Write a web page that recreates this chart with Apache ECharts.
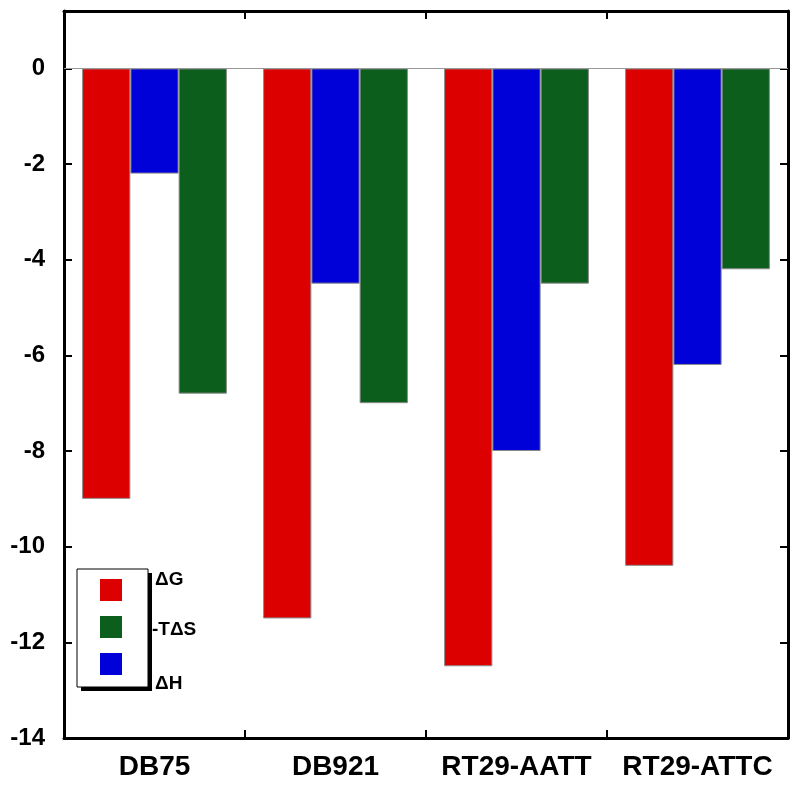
<!DOCTYPE html>
<html><head><meta charset="utf-8">
<script src="https://cdn.jsdelivr.net/npm/echarts@6/dist/echarts.min.js"></script>
<style>html,body{margin:0;padding:0;background:#fff}#c{width:800px;height:793px}</style>
</head><body><div id="c"></div>
<script>
const categories = ['DB75', 'DB921', 'RT29-AATT', 'RT29-ATTC'];
const dG = [-9.0, -11.5, -12.5, -10.4];
const dH = [-2.2, -4.5, -8.0, -6.2];
const TdS = [-6.8, -7.0, -4.5, -4.2];
const yTicks = [-14, -12, -10, -8, -6, -4, -2, 0];
const legendNames = ['\u0394G', '-T\u0394S', '\u0394H'];

const FONT = 'Liberation Sans, Arial, sans-serif';
const RED = '#dd0000', BLUE = '#0000d8', GREEN = '#0b5e1b';
const chart = echarts.init(document.getElementById('c'), null, {renderer: 'canvas'});

const barStyle = c => ({color: c, borderColor: '#8a8a8a', borderWidth: 1});
const axLine = {show: true, onZero: false, lineStyle: {color: '#000', width: 3}};
const tick = {show: true, inside: true, length: 8, lineStyle: {color: '#000', width: 2}};

chart.setOption({
  animation: false,
  backgroundColor: '#fff',
  grid: {left: 64, right: 12, top: 11, bottom: 55},
  legend: {
    z: 200, zlevel: 1, padding: 0,
    orient: 'vertical', left: 100, top: 579,
    itemWidth: 22, itemHeight: 22, itemGap: 15,
    data: legendNames, formatter: () => '',
    icon: 'rect', selectedMode: false,
    itemStyle: {borderWidth: 0}
  },
  xAxis: [{
    type: 'category', data: categories, position: 'bottom',
    axisLine: axLine, axisTick: tick,
    axisLabel: {interval: 0, fontFamily: FONT, fontWeight: 'bold', fontSize: 28, color: '#000', margin: 15},
    splitLine: {show: false}
  }, {
    type: 'category', data: categories, position: 'top',
    axisLine: axLine, axisTick: tick,
    axisLabel: {show: false}, splitLine: {show: false}
  }],
  yAxis: [{
    type: 'value', min: -14, max: 1.2, interval: 2, position: 'left',
    axisLine: axLine,
    axisTick: Object.assign({customValues: yTicks}, tick),
    axisLabel: {fontFamily: FONT, fontWeight: 'bold', fontSize: 24, color: '#000', margin: 19, customValues: yTicks},
    splitLine: {show: false}
  }, {
    type: 'value', min: -14, max: 1.2, interval: 2, position: 'right',
    axisLine: axLine,
    axisTick: Object.assign({customValues: yTicks}, tick),
    axisLabel: {show: false}, splitLine: {show: false}
  }],
  series: [
    {name: '\u0394G', type: 'bar', data: dG, itemStyle: barStyle(RED), barGap: '0%', barCategoryGap: '20%',
     markLine: {silent: true, symbol: 'none', label: {show: false},
       lineStyle: {color: '#999', width: 1, type: 'solid'}, data: [{yAxis: 0}]}},
    {name: '\u0394H', type: 'bar', data: dH, itemStyle: barStyle(BLUE), barGap: '0%', barCategoryGap: '20%'},
    {name: '-T\u0394S', type: 'bar', data: TdS, itemStyle: barStyle(GREEN), barGap: '0%', barCategoryGap: '20%'}
  ],
  graphic: [
    {type: 'rect', z: 50, shape: {x: 81, y: 573, width: 71, height: 118}, style: {fill: '#000'}, silent: true},
    {type: 'rect', z: 51, shape: {x: 77, y: 569, width: 71, height: 118}, style: {fill: '#fff', stroke: '#000', lineWidth: 1}, silent: true},
    {type: 'text', z: 60, left: 155, top: 570, style: {text: legendNames[0], font: 'bold 19px ' + FONT, fill: '#000'}},
    {type: 'text', z: 60, left: 152, top: 620, style: {text: legendNames[1], font: 'bold 19px ' + FONT, fill: '#000'}},
    {type: 'text', z: 60, left: 155, top: 674, style: {text: legendNames[2], font: 'bold 19px ' + FONT, fill: '#000'}}
  ]
});
</script></body></html>
